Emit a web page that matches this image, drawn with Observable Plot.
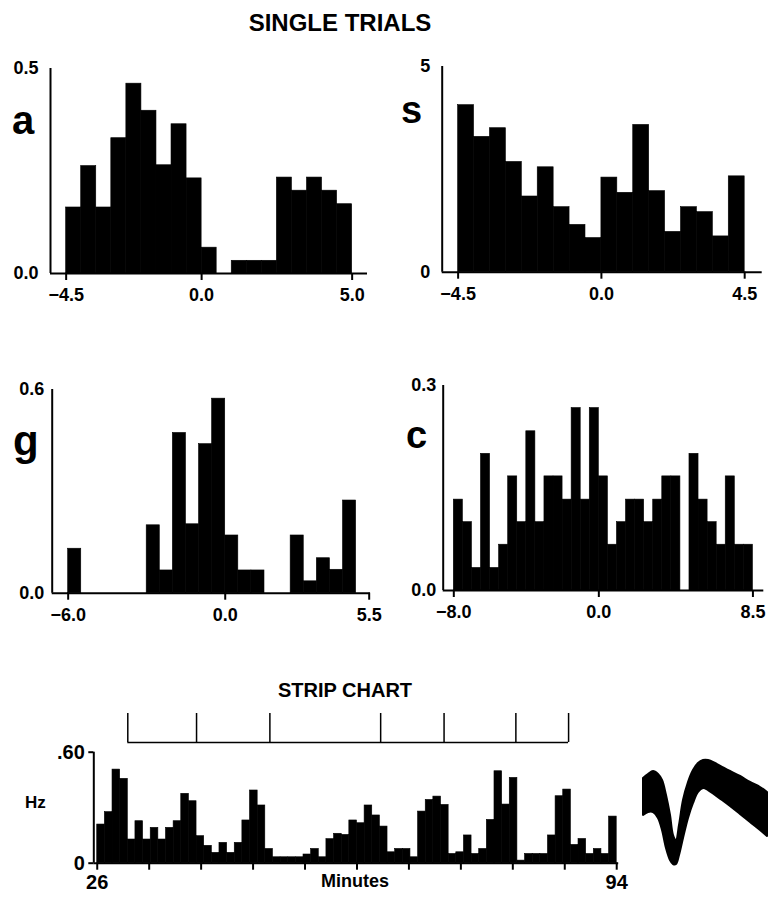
<!DOCTYPE html>
<html><head><meta charset="utf-8">
<script src="https://cdn.jsdelivr.net/npm/d3@7"></script>
<script src="https://cdn.jsdelivr.net/npm/@observablehq/plot@0.6"></script>
<style>
html,body{margin:0;padding:0;background:#fff;}
#page{position:relative;width:774px;height:899px;overflow:hidden;font-family:"Liberation Sans",Arial,sans-serif;}
.box{position:absolute;}
.box svg{display:block;overflow:visible;}
#overlay{position:absolute;left:0;top:0;pointer-events:none;}
</style></head><body><div id="page"></div>
<script>
// ---------- DATA ----------
const binWidth = 0.5;
// panel a (single trials)
const aStart = -4.5;
const aValues = [0.161,0.262,0.161,0.330,0.463,0.397,0.264,0.364,0.232,0.063,0,0.031,0.031,0.031,0.234,0.202,0.234,0.202,0.169];
const aTicks = [-4.5, 0.0, 5.0];
const aYTicks = [0, 0.5];
// panel s
const sStart = -4.5;
const sValues = [4.06,3.29,3.50,2.68,1.84,2.55,1.58,1.15,0.83,2.30,1.93,3.58,1.97,0.98,1.58,1.46,0.87,2.33];
const sTicks = [-4.5, 0.0, 4.5];
const sYTicks = [0, 5];
// panel g
const gStart = -6.0;
const gValues = [0.131,0,0,0,0,0,0.200,0.067,0.472,0.203,0.439,0.573,0.170,0.067,0.067,0,0,0.170,0.035,0.103,0.069,0.273,0];
const gTicks = [-6.0, 0.0, 5.5];
const gYTicks = [0, 0.6];
// panel c
const cStart = -8.0;
const cValues = [0.133,0.100,0.033,0.200,0.033,0.067,0.167,0.100,0.233,0.100,0.167,0.167,0.133,0.267,0.133,0.267,0.167,0.067,0.100,0.133,0.133,0.100,0.133,0.167,0.167,0,0.200,0.133,0.100,0.067,0.167,0.067,0.067];
const cTicks = [-8.0, 0.0, 8.5];
const cYTicks = [0, 0.3];
// strip chart (1-minute bins from minute 26)
const stripStart = 26, stripBin = 1;
const stripValues = [0.209,0.276,0.506,0.456,0.128,0.227,0.128,0.191,0.128,0.191,
  0.227,0.375,0.335,0.146,0.094,0.056,0.110,0.056,0.110,0.231,
  0.393,0.312,0.077,0.032,0.032,0.032,0.032,0.047,0.077,0.032,
  0.130,0.159,0.153,0.231,0.216,0.312,0.258,0.198,0.059,0.077,
  0.077,0.032,0.279,0.342,0.360,0.315,0.050,0.059,0.150,0.050,
  0.077,0.234,0.497,0.317,0.461,0.014,0.050,0.050,0.050,0.150,
  0.362,0.398,0.099,0.131,0.050,0.077,0.050,0.252];
const stripTicks = [26, 32.8, 39.6, 46.4, 53.2, 60, 66.8, 73.6, 80.4, 87.2, 94];
const stripLabeled = [26, 94];
const stripYTicks = [0, 0.6];
// trial-block markers above strip chart (minutes)
const blockMarks = [30.0, 39.0, 48.6, 63.1, 71.4, 80.8, 87.7];
// spike waveform envelope (sample index, upper and lower amplitude)
const waveT  = [0,1,2,3,3.8,4.6,5.4,6,6.6,7.2,8,9,10,11,12,13,14.4,15.8,17.4,19.4,21.4,23.4,24.8];
const waveHi = [42,46,49,46,40,25,5,-15,-20,-5,20,38,50,57,60,60,57,53,49,44,38,33,28];
const waveLo = [5,8,8,2,-10,-28,-40,-44,-44,-35,-18,2,17,28,32,30,25,20,14,6,-2,-10,-16];

// ---------- RENDER ----------
const page = document.getElementById("page");
const FONT = '"Liberation Sans", Arial, sans-serif';
function place(el, left, top) {
  const d = document.createElement("div");
  d.className = "box"; d.style.left = left + "px"; d.style.top = top + "px";
  d.appendChild(el); page.appendChild(d);
}
function bins(start, w, vals) {
  return vals.map((v, i) => ({x1: start + i * w, x2: start + (i + 1) * w, y1: 0, y2: v}));
}
function margins(box, frame) {
  return {
    width: box[2], height: box[3],
    marginLeft: frame[0] - box[0], marginRight: box[0] + box[2] - frame[1],
    marginTop: frame[2] - box[1], marginBottom: box[1] + box[3] - frame[3]
  };
}
const style = {background: "transparent", overflow: "visible", fontFamily: FONT, fontWeight: "bold", color: "black"};

function hist(p) {
  return Plot.plot({
    ...margins(p.box, p.frame),
    x: {domain: p.xDomain}, y: {domain: [0, p.yMax]},
    style,
    marks: [
      Plot.rect(bins(p.start, binWidth, p.values), {x1: "x1", x2: "x2", y1: "y1", y2: "y2", fill: "black", stroke: "black", strokeWidth: 0.6}),
      Plot.ruleY([0], {strokeWidth: 2}),
      Plot.ruleX([p.xDomain[0]], {strokeWidth: 2}),
      Plot.axisX({ticks: p.xTicks, tickFormat: d3.format(".1f"), tickSize: 7, tickPadding: 8, fontSize: 18, fontWeight: "bold", strokeWidth: 2}),
      Plot.axisY({ticks: p.yTicks, tickFormat: p.yFmt, tickSize: 0, tickPadding: p.yPad, fontSize: 18, fontWeight: "bold"})
    ]
  });
}

place(hist({box: [0, 55, 380, 260], frame: [50, 367, 68, 273], xDomain: [-5.02, 5.51], yMax: 0.5,
  start: aStart, values: aValues, xTicks: aTicks, yTicks: aYTicks, yFmt: d3.format(".1f"), yPad: 12}), 0, 55);
place(hist({box: [380, 55, 394, 260], frame: [441.7, 761.7, 66, 271.7], xDomain: [-5.0, 5.05], yMax: 5,
  start: sStart, values: sValues, xTicks: sTicks, yTicks: sYTicks, yFmt: d3.format("d"), yPad: 12}), 380, 55);
place(hist({box: [0, 375, 380, 260], frame: [51.7, 370, 389, 592.7], xDomain: [-6.61, 5.55], yMax: 0.6,
  start: gStart, values: gValues, xTicks: gTicks, yTicks: gYTicks, yFmt: d3.format(".1f"), yPad: 8}), 0, 375);
place(hist({box: [380, 375, 394, 260], frame: [442.7, 763.3, 385, 590], xDomain: [-8.585, 9.1], yMax: 0.3,
  start: cStart, values: cValues, xTicks: cTicks, yTicks: cYTicks, yFmt: d3.format(".1f"), yPad: 7}), 380, 375);

// strip chart
const stripDomain = [25.55, 94.26];
place(Plot.plot({
  ...margins([0, 700, 640, 199], [93.3, 618.2, 751.7, 862.7]),
  x: {domain: stripDomain}, y: {domain: [0, 0.6]},
  style,
  marks: [
    Plot.rect(bins(stripStart, stripBin, stripValues), {x1: "x1", x2: "x2", y1: "y1", y2: "y2", fill: "black", stroke: "black", strokeWidth: 0.6}),
    Plot.ruleY([0], {strokeWidth: 2}),
    Plot.ruleX([stripDomain[0]], {strokeWidth: 2}),
    Plot.axisX({ticks: stripTicks, tickFormat: d => stripLabeled.includes(d) ? String(d) : "", tickSize: 7, tickPadding: 5, fontSize: 20, fontWeight: "bold", strokeWidth: 2}),
    Plot.axisY({ticks: stripYTicks, tickFormat: d => d === 0 ? "0" : ".60", tickSize: 5, tickPadding: 4, fontSize: 20, fontWeight: "bold", strokeWidth: 2})
  ]
}), 0, 700);

// block bracket
place(Plot.plot({
  width: 640, height: 32, marginLeft: 93.3, marginRight: 640 - 618.2, marginTop: 1, marginBottom: 2,
  x: {domain: stripDomain, axis: null}, y: {domain: [0, 1], axis: null}, style,
  marks: [
    Plot.ruleX(blockMarks, {y1: 0, y2: 1, strokeWidth: 1.5}),
    Plot.ruleY([0], {x1: blockMarks[0], x2: blockMarks[blockMarks.length - 1], strokeWidth: 1.5})
  ]
}), 0, 712);

// waveform
const wave = waveT.map((t, i) => ({t, hi: waveHi[i], lo: waveLo[i]}));
place(Plot.plot({
  width: 144, height: 125, marginLeft: 13, marginRight: 7, marginTop: 0, marginBottom: 0,
  x: {domain: [0, 24.8], axis: null}, y: {domain: [-55, 70], axis: null}, style,
  marks: [
    Plot.areaY(wave, {x: "t", y1: "lo", y2: "hi", fill: "black", stroke: "black", strokeWidth: 2, curve: "catmull-rom"})
  ]
}), 630, 750);

// text overlay
const svg = d3.select(page).append("svg").attr("id", "overlay").attr("width", 774).attr("height", 899)
  .style("font-family", FONT).style("font-weight", "bold");
const texts = [
  {t: "SINGLE TRIALS", x: 340, y: 31, s: 24, a: "middle"},
  {t: "STRIP CHART", x: 345, y: 697, s: 20, a: "middle"},
  {t: "a", x: 12, y: 134, s: 40, a: "start"},
  {t: "s", x: 401, y: 123, s: 38, a: "start"},
  {t: "g", x: 13, y: 455, s: 42, a: "start"},
  {t: "c", x: 406, y: 448, s: 38, a: "start"},
  {t: "Hz", x: 25, y: 808, s: 17, a: "start"},
  {t: "Minutes", x: 355, y: 887, s: 18, a: "middle"}
];
svg.selectAll("text").data(texts).join("text")
  .attr("x", d => d.x).attr("y", d => d.y).attr("font-size", d => d.s).attr("text-anchor", d => d.a)
  .text(d => d.t);
</script></body></html>
